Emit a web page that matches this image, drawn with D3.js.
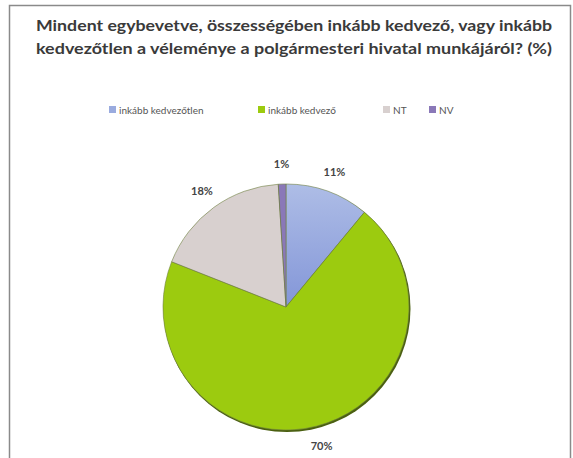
<!DOCTYPE html>
<html><head><meta charset="utf-8">
<script src="https://cdn.jsdelivr.net/npm/d3@7"></script>
<style>body{margin:0;background:#fff}svg{display:block}</style>
</head><body>
<svg id="c" width="573" height="458"></svg>
<script>
const titleLines = ["Mindent egybevetve, összességében inkább kedvező, vagy inkább",
                    "kedvezőtlen a véleménye a  polgármesteri hivatal munkájáról? (%)"];
const categories = ["inkább kedvezőtlen", "inkább kedvező", "NT", "NV"];
const values = [11, 70, 18, 1];
const labels = ["11%", "70%", "18%", "1%"];
const colors = ["#9aabdf", "#9ccb0f", "#d8d0cf", "#8a78b8"];

const svg = d3.select("#c");
const defs = svg.append("defs");
const gb = defs.append("linearGradient").attr("id", "gBlue")
  .attr("x1", "0").attr("y1", "0").attr("x2", "0").attr("y2", "1");
gb.append("stop").attr("offset", "0%").attr("stop-color", "#aebde6");
gb.append("stop").attr("offset", "100%").attr("stop-color", "#8396d8");
const fills = ["url(#gBlue)", colors[1], colors[2], colors[3]];

svg.append("rect").attr("x", 9.5).attr("y", 5.5).attr("width", 561).attr("height", 460)
  .attr("fill", "#fff").attr("stroke", "#8a8a8a").attr("stroke-width", 1.5);

svg.append("g").selectAll("text").data(titleLines).join("text")
  .attr("x", 294).attr("y", (d, i) => 31 + i * 23)
  .attr("text-anchor", "middle")
  .attr("font-family", "Lato, 'Open Sans', sans-serif").attr("font-weight", "bold")
  .attr("font-size", 15).attr("fill", "#3a3a3a")
  .attr("textLength", 516).attr("lengthAdjust", "spacingAndGlyphs")
  .text(d => d);

// legend
const legX = [112, 261, 386, 432];
const leg = svg.append("g").selectAll("g").data(categories).join("g")
  .attr("transform", (d, i) => `translate(${legX[i]},110)`);
leg.append("rect").attr("x", -3).attr("y", -4).attr("width", 7).attr("height", 7)
  .attr("fill", (d, i) => colors[i]);
leg.append("text").attr("x", 7).attr("y", 3.5)
  .attr("font-family", "Lato, 'Open Sans', sans-serif").attr("font-size", 10)
  .attr("fill", "#555").text(d => d);

const cx = 286, cy = 307, r = 123;
const pie = d3.pie().sort(null).value(d => d)(values);
const arc = d3.arc().innerRadius(0).outerRadius(r);
const g = svg.append("g").attr("transform", `translate(${cx},${cy})`);
g.append("circle").attr("cx", 1).attr("cy", 1.5).attr("r", r + 0.5).attr("fill", "#4a5f10");
g.selectAll("path").data(pie).join("path")
  .attr("d", arc).attr("fill", (d, i) => fills[i])
  .attr("stroke", "#6f7f40").attr("stroke-width", 0.6);

const labelArc = d3.arc().innerRadius(r + 20).outerRadius(r + 20);
g.selectAll("text.lab").data(pie).join("text").attr("class", "lab")
  .attr("transform", d => { const c = labelArc.centroid(d); return `translate(${c[0]},${c[1] + 4})`; })
  .attr("text-anchor", "middle")
  .attr("font-family", "Lato, 'Open Sans', sans-serif").attr("font-weight", "bold")
  .attr("font-size", 11).attr("fill", "#444")
  .text((d, i) => labels[i]);
</script>
</body></html>
